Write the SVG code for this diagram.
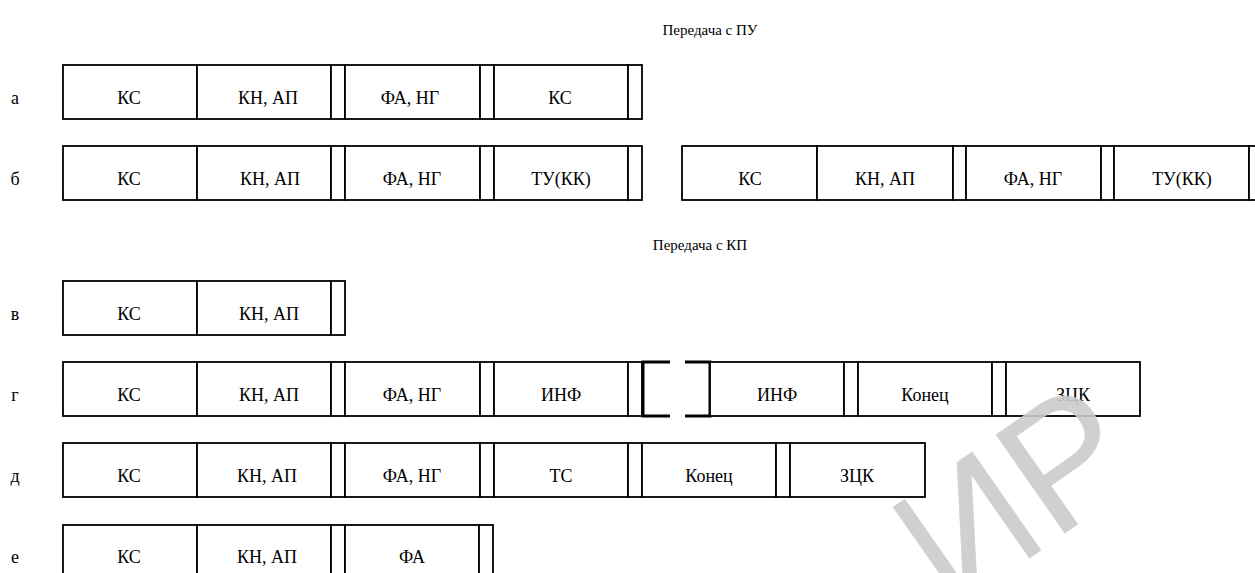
<svg xmlns="http://www.w3.org/2000/svg" width="1255" height="573" viewBox="0 0 1255 573">
<style>
  .c { fill: #fff; stroke: #000; stroke-width: 1.8; }
  .t { font-family: "Liberation Serif", "Times New Roman", serif; font-size: 18px; fill: #000; text-anchor: middle; }
  .l { font-family: "Liberation Serif", "Times New Roman", serif; font-size: 18px; fill: #000; text-anchor: middle; }
  .h { font-family: "Liberation Serif", "Times New Roman", serif; font-size: 15px; fill: #000; text-anchor: middle; }
  .br { fill: none; stroke: #000; stroke-width: 3; }
  .wm { font-family: "Liberation Sans", Arial, sans-serif; font-size: 175px; fill: #cbcbcb; }
</style>
<rect width="1255" height="573" fill="#fff"/>

<text class="h" x="710" y="35">Передача с ПУ</text>
<text class="h" x="700" y="250">Передача с КП</text>

<!-- row а -->
<g id="row-a">
  <text class="l" x="15" y="104">а</text>
  <rect class="c" x="63" y="65" width="134" height="54"/>
  <rect class="c" x="197" y="65" width="134" height="54"/>
  <rect class="c" x="331" y="65" width="14" height="54"/>
  <rect class="c" x="345" y="65" width="135" height="54"/>
  <rect class="c" x="480" y="65" width="14" height="54"/>
  <rect class="c" x="494" y="65" width="134" height="54"/>
  <rect class="c" x="628" y="65" width="14" height="54"/>
  <text class="t" x="129" y="104">КС</text>
  <text class="t" x="268" y="104">КН, АП</text>
  <text class="t" x="410" y="104">ФА, НГ</text>
  <text class="t" x="560" y="104">КС</text>
</g>

<!-- row б left -->
<g id="row-b1">
  <text class="l" x="15" y="185">б</text>
  <rect class="c" x="63" y="146" width="134" height="54"/>
  <rect class="c" x="197" y="146" width="134" height="54"/>
  <rect class="c" x="331" y="146" width="14" height="54"/>
  <rect class="c" x="345" y="146" width="135" height="54"/>
  <rect class="c" x="480" y="146" width="14" height="54"/>
  <rect class="c" x="494" y="146" width="134" height="54"/>
  <rect class="c" x="628" y="146" width="14" height="54"/>
  <text class="t" x="129" y="185">КС</text>
  <text class="t" x="270" y="185">КН, АП</text>
  <text class="t" x="412" y="185">ФА, НГ</text>
  <text class="t" x="561" y="185">ТУ(КК)</text>
</g>

<!-- row б right -->
<g id="row-b2">
  <rect class="c" x="682" y="146" width="135" height="54"/>
  <rect class="c" x="817" y="146" width="136" height="54"/>
  <rect class="c" x="953" y="146" width="13" height="54"/>
  <rect class="c" x="966" y="146" width="135" height="54"/>
  <rect class="c" x="1101" y="146" width="13" height="54"/>
  <rect class="c" x="1114" y="146" width="135" height="54"/>
  <rect class="c" x="1249" y="146" width="14" height="54"/>
  <text class="t" x="750" y="185">КС</text>
  <text class="t" x="885" y="185">КН, АП</text>
  <text class="t" x="1033" y="185">ФА, НГ</text>
  <text class="t" x="1182" y="185">ТУ(КК)</text>
</g>

<!-- row в -->
<g id="row-v">
  <text class="l" x="15" y="320">в</text>
  <rect class="c" x="63" y="281" width="134" height="54"/>
  <rect class="c" x="197" y="281" width="134" height="54"/>
  <rect class="c" x="331" y="281" width="14" height="54"/>
  <text class="t" x="129" y="320">КС</text>
  <text class="t" x="269" y="320">КН, АП</text>
</g>

<!-- row г -->
<g id="row-g">
  <text class="l" x="15" y="401">г</text>
  <rect class="c" x="63" y="362" width="134" height="54"/>
  <rect class="c" x="197" y="362" width="134" height="54"/>
  <rect class="c" x="331" y="362" width="14" height="54"/>
  <rect class="c" x="345" y="362" width="135" height="54"/>
  <rect class="c" x="480" y="362" width="14" height="54"/>
  <rect class="c" x="494" y="362" width="134" height="54"/>
  <rect class="c" x="628" y="362" width="14" height="54"/>
  <path class="br" d="M670,362 H643 V416 H670"/>
  <path class="br" d="M685,362 H710 V416 H685"/>
  <rect class="c" x="710" y="362" width="134" height="54"/>
  <rect class="c" x="844" y="362" width="14" height="54"/>
  <rect class="c" x="858" y="362" width="134" height="54"/>
  <rect class="c" x="992" y="362" width="14" height="54"/>
  <rect class="c" x="1006" y="362" width="134" height="54"/>
  <text class="t" x="129" y="401">КС</text>
  <text class="t" x="269" y="401">КН, АП</text>
  <text class="t" x="412" y="401">ФА, НГ</text>
  <text class="t" x="561" y="401">ИНФ</text>
  <text class="t" x="777" y="401">ИНФ</text>
  <text class="t" x="925" y="401">Конец</text>
  <text class="t" x="1073" y="401">ЗЦК</text>
</g>

<!-- row д -->
<g id="row-d">
  <text class="l" x="15" y="482">д</text>
  <rect class="c" x="63" y="443" width="134" height="54"/>
  <rect class="c" x="197" y="443" width="134" height="54"/>
  <rect class="c" x="331" y="443" width="14" height="54"/>
  <rect class="c" x="345" y="443" width="135" height="54"/>
  <rect class="c" x="480" y="443" width="14" height="54"/>
  <rect class="c" x="494" y="443" width="134" height="54"/>
  <rect class="c" x="628" y="443" width="14" height="54"/>
  <rect class="c" x="642" y="443" width="134" height="54"/>
  <rect class="c" x="776" y="443" width="14" height="54"/>
  <rect class="c" x="790" y="443" width="135" height="54"/>
  <text class="t" x="129" y="482">КС</text>
  <text class="t" x="267" y="482">КН, АП</text>
  <text class="t" x="412" y="482">ФА, НГ</text>
  <text class="t" x="561" y="482">ТС</text>
  <text class="t" x="709" y="482">Конец</text>
  <text class="t" x="857" y="482">ЗЦК</text>
</g>

<!-- row е -->
<g id="row-e">
  <text class="l" x="15" y="563">е</text>
  <rect class="c" x="63" y="525" width="134" height="54"/>
  <rect class="c" x="197" y="525" width="134" height="54"/>
  <rect class="c" x="331" y="525" width="14" height="54"/>
  <rect class="c" x="345" y="525" width="134" height="54"/>
  <rect class="c" x="479" y="525" width="14" height="54"/>
  <text class="t" x="129" y="563">КС</text>
  <text class="t" x="267" y="563">КН, АП</text>
  <text class="t" x="412" y="563">ФА</text>
</g>

<g id="connectors"/>

<text class="wm" transform="translate(950,614) rotate(-35)" x="0" y="0" opacity="0.9">ИР</text>
</svg>
